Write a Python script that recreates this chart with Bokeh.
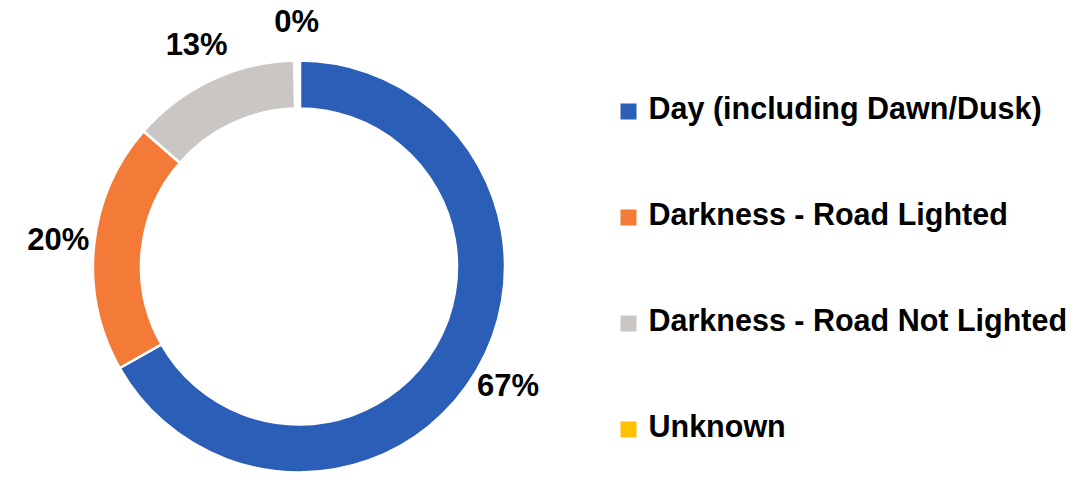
import math
from bokeh.plotting import figure
from bokeh.models import Range1d, ColumnDataSource
from bokeh.core.properties import value
from bokeh.embed import file_html
from bokeh.resources import INLINE

# ---- data ----
categories = ["Day (including Dawn/Dusk)", "Darkness - Road Lighted",
              "Darkness - Road Not Lighted", "Unknown"]
shares = [66.8, 19.6, 13.3, 0.3]
colors = ["#2B5EB7", "#F47A38", "#C9C6C3", "#FFC000"]

# ---- layout: data space = picture pixels (y measured upward) ----
W, H = 1073, 472
def py(y_img):
    return H - y_img

FONT = "Liberation Sans"
cx, cy = 298.5, py(266)
r_out, r_in = 206, 158
label_r = r_out + 36
text_shift = 3   # 'middle' baseline sits this many px above the cap centre

total = sum(shares)
starts, ends, mids = [], [], []
acc = 0.0
for s in shares:
    a0 = math.pi / 2 - 2 * math.pi * acc / total
    acc += s
    a1 = math.pi / 2 - 2 * math.pi * acc / total
    starts.append(a0)
    ends.append(a1)
    mids.append((a0 + a1) / 2)

line_widths = [2.5, 2.5, 2.5, 4.5]

p = figure(width=W, height=H, output_backend="svg", toolbar_location=None,
           x_range=Range1d(0, W), y_range=Range1d(0, H),
           min_border=0)
p.axis.visible = False
p.grid.visible = False
p.outline_line_color = None
p.background_fill_color = "white"

src = ColumnDataSource(dict(x=[cx] * 4, y=[cy] * 4, start=starts, end=ends,
                            color=colors, lw=line_widths, cat=categories))
p.annular_wedge(x="x", y="y", inner_radius=r_in, outer_radius=r_out,
                start_angle="start", end_angle="end", direction="clock",
                fill_color="color", line_color="white", line_width="lw",
                source=src)

# percentage labels
lx, ly, lt = [], [], []
for s, m in zip(shares, mids):
    lx.append(cx + label_r * math.cos(m))
    ly.append(cy + label_r * math.sin(m) + text_shift)
    lt.append(f"{round(100 * s / total)}%")
p.text(x=lx, y=ly, text=lt, text_font=value(FONT), text_font_style="bold",
       text_font_size="31px", text_color="black", text_align="center",
       text_baseline="middle")

# legend
leg_x_sq = 628
leg_x_txt = 648
row0_center = 111
row_step = 106
n = len(categories)
sq_y = [py(row0_center + i * row_step) for i in range(n)]
txt_y = [py(row0_center - 1 - text_shift + i * row_step) for i in range(n)]
p.rect(x=[leg_x_sq] * n, y=sq_y, width=16, height=16,
       fill_color=colors, line_color=None)
p.text(x=[leg_x_txt] * n, y=txt_y, text=categories, text_font=value(FONT),
       text_font_style="bold", text_font_size="30.5px", text_color="black",
       text_align="left", text_baseline="middle")

open("out.html", "w").write(file_html(p, INLINE))
